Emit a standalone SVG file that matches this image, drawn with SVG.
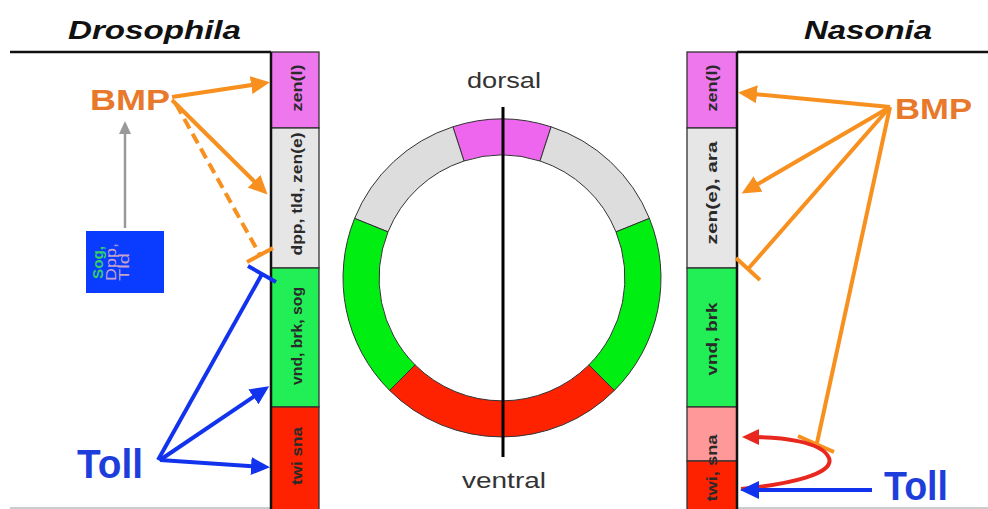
<svg xmlns="http://www.w3.org/2000/svg" width="988" height="509" viewBox="0 0 988 509">
<defs>
<style>
.title{font-family:"Liberation Sans",Arial,sans-serif;font-weight:bold;font-style:italic;font-size:26px;fill:#111}
.big{font-family:"Liberation Sans",Arial,sans-serif;font-weight:bold}
.bmp{fill:#E8782A;font-size:29px}
.toll{fill:#1E3EDC;font-size:40px}
.strip{font-family:"Liberation Sans",Arial,sans-serif;font-weight:bold;font-size:15px;fill:#2a2a2a;text-anchor:middle}
.axis{font-family:"Liberation Sans",Arial,sans-serif;font-size:22px;fill:#333;text-anchor:middle}
.seg{stroke:#333;stroke-width:1.3}
.ring{stroke:#333;stroke-width:1}
.or{stroke:#F7901E;stroke-width:4;fill:none}
.bl{stroke:#1133EE;stroke-width:4;fill:none}
.small{font-family:"Liberation Sans",Arial,sans-serif;font-size:15px}
</style>
<marker id="ao" markerUnits="userSpaceOnUse" markerWidth="20" markerHeight="18" refX="14" refY="9" orient="auto"><path d="M0,0 L19,9 L0,18 z" fill="#F7901E"/></marker>
<marker id="ab" markerUnits="userSpaceOnUse" markerWidth="20" markerHeight="18" refX="14" refY="9" orient="auto"><path d="M0,0 L19,9 L0,18 z" fill="#1133EE"/></marker>
<marker id="ar" markerUnits="userSpaceOnUse" markerWidth="18" markerHeight="16" refX="12" refY="8" orient="auto"><path d="M0,0 L17,8 L0,16 z" fill="#E8281E"/></marker>
<marker id="ag" markerUnits="userSpaceOnUse" markerWidth="14" markerHeight="12" refX="10" refY="6" orient="auto"><path d="M0,0 L13,6 L0,12 z" fill="#999"/></marker>
</defs>
<rect width="988" height="509" fill="#fff"/>

<!-- titles and frame lines -->
<text class="title" x="68" y="39" textLength="173" lengthAdjust="spacingAndGlyphs">Drosophila</text>
<text class="title" x="804" y="39" textLength="128" lengthAdjust="spacingAndGlyphs">Nasonia</text>
<line x1="10" y1="52" x2="271" y2="52" stroke="#111" stroke-width="2.5"/>
<line x1="737" y1="52" x2="988" y2="52" stroke="#111" stroke-width="2.5"/>
<line x1="10" y1="508" x2="271" y2="508" stroke="#bbb" stroke-width="1.5"/>
<line x1="737" y1="508" x2="988" y2="508" stroke="#bbb" stroke-width="1.5"/>

<!-- Drosophila strip -->
<g id="droso-zen-l"><rect class="seg" x="271" y="52" width="48" height="76" fill="#EE77EE"/><text class="strip" transform="translate(302,88) rotate(-90)" textLength="47" lengthAdjust="spacingAndGlyphs">zen(l)</text></g>
<g id="droso-dpp"><rect class="seg" x="271" y="128" width="48" height="140" fill="#E6E6E6"/><text class="strip" transform="translate(302,194) rotate(-90)" textLength="123" lengthAdjust="spacingAndGlyphs">dpp, tld, zen(e)</text></g>
<g id="droso-vnd"><rect class="seg" x="271" y="268" width="48" height="139" fill="#22EE55"/><text class="strip" transform="translate(302,336) rotate(-90)" textLength="98" lengthAdjust="spacingAndGlyphs">vnd, brk, sog</text></g>
<g id="droso-twi"><rect class="seg" x="271" y="407" width="48" height="105" fill="#FF2200"/><text class="strip" transform="translate(302,456) rotate(-90)" textLength="58" lengthAdjust="spacingAndGlyphs">twi sna</text></g>
<line x1="271" y1="52" x2="271" y2="509" stroke="#111" stroke-width="2.5"/>

<!-- Nasonia strip -->
<g id="naso-zen-l"><rect class="seg" x="687" y="52" width="50" height="76" fill="#EE77EE"/><text class="strip" transform="translate(717,88) rotate(-90)" textLength="47" lengthAdjust="spacingAndGlyphs">zen(l)</text></g>
<g id="naso-zen-e"><rect class="seg" x="687" y="128" width="50" height="140" fill="#E6E6E6"/><text class="strip" transform="translate(717,193) rotate(-90)" textLength="103" lengthAdjust="spacingAndGlyphs">zen(e), ara</text></g>
<g id="naso-vnd"><rect class="seg" x="687" y="268" width="50" height="139" fill="#22EE55"/><text class="strip" transform="translate(717,339) rotate(-90)" textLength="73" lengthAdjust="spacingAndGlyphs">vnd, brk</text></g>
<g id="naso-sna"><rect class="seg" x="687" y="407" width="50" height="54" fill="#FF9999"/></g>
<g id="naso-twi"><rect class="seg" x="687" y="461" width="50" height="51" fill="#FF2200"/><text class="strip" transform="translate(717,468) rotate(-90)" textLength="67" lengthAdjust="spacingAndGlyphs">twi, sna</text></g>
<line x1="737" y1="52" x2="737" y2="509" stroke="#111" stroke-width="2.5"/>

<!-- ring -->
<g id="ring">
<path class="ring" fill="#EE66EE" d="M452.9,126.8 A159,159 0 0 1 551.1,126.8 L540.0,161.0 A123,123 0 0 0 464.0,161.0 Z"/>
<path class="ring" fill="#DDDDDD" d="M551.1,126.8 A159,159 0 0 1 649.4,218.4 L616.0,231.9 A123,123 0 0 0 540.0,161.0 Z"/>
<path class="ring" fill="#DDDDDD" d="M354.6,218.4 A159,159 0 0 1 452.9,126.8 L464.0,161.0 A123,123 0 0 0 388.0,231.9 Z"/>
<path class="ring" fill="#00EE11" d="M649.4,218.4 A159,159 0 0 1 614.4,390.4 L588.9,364.9 A123,123 0 0 0 616.0,231.9 Z"/>
<path class="ring" fill="#00EE11" d="M389.6,390.4 A159,159 0 0 1 354.6,218.4 L388.0,231.9 A123,123 0 0 0 415.1,364.9 Z"/>
<path class="ring" fill="#FF2200" d="M614.4,390.4 A159,159 0 0 1 389.6,390.4 L415.1,364.9 A123,123 0 0 0 588.9,364.9 Z"/>
<line x1="503" y1="107" x2="503" y2="457" stroke="#000" stroke-width="3"/>
<text class="axis" x="504" y="88" textLength="74" lengthAdjust="spacingAndGlyphs">dorsal</text>
<text class="axis" x="504" y="488" textLength="84" lengthAdjust="spacingAndGlyphs">ventral</text>
</g>

<!-- labels -->
<g id="bmp-left"><text class="big bmp" x="90" y="110" textLength="80" lengthAdjust="spacingAndGlyphs">BMP</text></g>
<g id="bmp-right"><text class="big bmp" x="895" y="119" font-size="30" textLength="77" lengthAdjust="spacingAndGlyphs">BMP</text></g>
<g id="toll-left"><text class="big toll" x="77" y="478" textLength="66" lengthAdjust="spacingAndGlyphs">Toll</text></g>
<g id="toll-right"><text class="big toll" x="884" y="500" font-size="38" textLength="64" lengthAdjust="spacingAndGlyphs">Toll</text></g>
<g id="sog-box">
<rect x="86" y="231" width="78" height="62" fill="#0A3CFF"/>
<text class="small" transform="translate(103,279) rotate(-90)" fill="#33CC66" font-weight="bold" textLength="33" lengthAdjust="spacingAndGlyphs">Sog,</text>
<text class="small" transform="translate(116,281) rotate(-90)" fill="#C8A2C8" textLength="38" lengthAdjust="spacingAndGlyphs">Dpp,</text>
<text class="small" transform="translate(129,281) rotate(-90)" fill="#C8A2C8" textLength="28" lengthAdjust="spacingAndGlyphs">Tld</text>
</g>

<!-- connectors -->
<g id="connectors">
<line x1="125" y1="228" x2="125" y2="124" stroke="#999" stroke-width="2.5" marker-end="url(#ag)"/>
<line class="or" x1="172" y1="97" x2="265" y2="83" marker-end="url(#ao)"/>
<line class="or" x1="172" y1="100" x2="264" y2="191" marker-end="url(#ao)"/>
<line class="or" x1="176" y1="104" x2="260" y2="255" stroke-dasharray="11,6"/>
<line class="or" x1="247" y1="262" x2="273" y2="248"/>
<line class="bl" x1="158" y1="460" x2="262" y2="274"/>
<line class="bl" x1="248" y1="266" x2="276" y2="282"/>
<line class="bl" x1="160" y1="460" x2="265" y2="389" marker-end="url(#ab)"/>
<line class="bl" x1="160" y1="460" x2="265" y2="467" marker-end="url(#ab)"/>
<line class="or" x1="890" y1="107" x2="743" y2="93" marker-end="url(#ao)"/>
<line class="or" x1="890" y1="107" x2="746" y2="191" marker-end="url(#ao)"/>
<line class="or" x1="890" y1="107" x2="748" y2="269"/>
<line class="or" x1="736" y1="258" x2="760" y2="280"/>
<line class="or" x1="890" y1="107" x2="817" y2="443" stroke-width="2.5"/>
<line class="or" x1="798" y1="436" x2="834" y2="452" stroke-width="3"/>
<path d="M741,489 C790,484 835,474 829,458 C822,441 780,437 747,437" stroke="#E8281E" stroke-width="4" fill="none" marker-end="url(#ar)"/>
<line class="bl" x1="872" y1="490" x2="745" y2="490" marker-end="url(#ab)"/>
</g>
</svg>
